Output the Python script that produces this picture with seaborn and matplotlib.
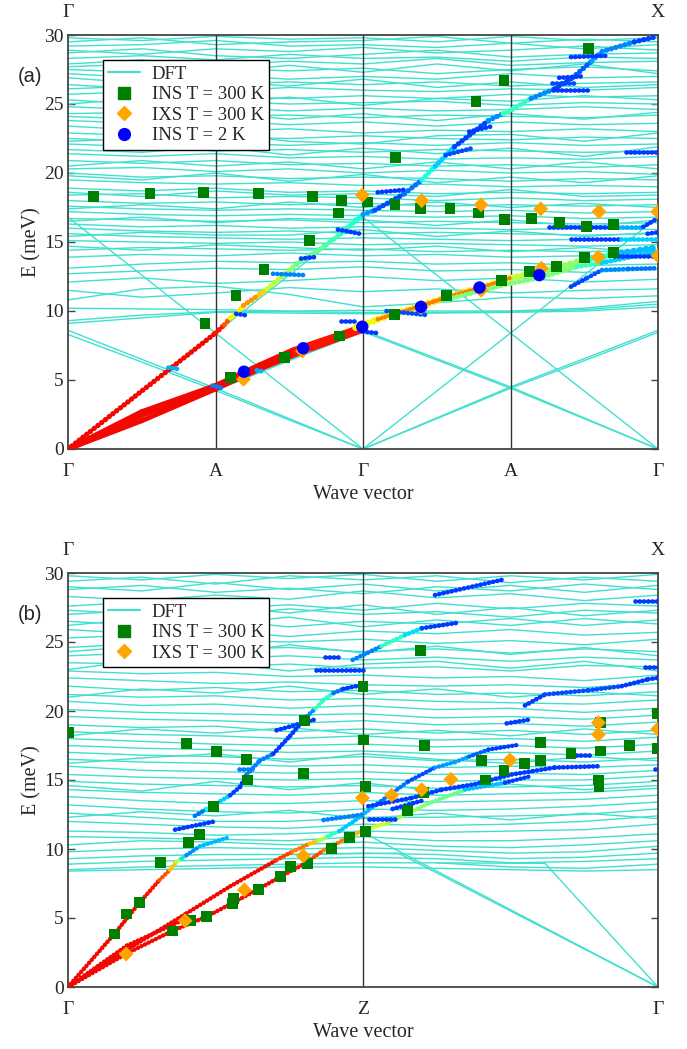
import matplotlib
matplotlib.use("Agg")
import matplotlib.pyplot as plt
from matplotlib.collections import LineCollection
from matplotlib.lines import Line2D
import numpy as np
import pandas as pd
import seaborn as sns


# --- Panel (a): path G-A-G-A-G, k = 0..4 ------------------------------------
A_KNODES = [0, 0.5, 1, 1.5, 2, 2.5, 3, 3.5, 4]
A_TICKS = ["Γ", "A", "Γ", "A", "Γ"]

# DFT bands (meV) at the nine k nodes above
A_BANDS = [
    # folded acoustic branches
    [0, 4.2, 8.4, 4.2, 0, 4.2, 8.4, 4.2, 0],
    [16.8, 12.6, 8.4, 12.6, 16.8, 12.6, 8.4, 12.6, 16.8],
    [0, 2.2, 4.4, 6.5, 8.6, 6.55, 4.5, 2.25, 0],
    [8.6, 6.5, 4.4, 2.2, 0, 2.25, 4.5, 6.55, 8.6],
    [0, 2.1, 4.25, 6.4, 8.5, 6.45, 4.4, 2.2, 0],
    [8.3, 6.3, 4.25, 2.1, 0, 2.2, 4.4, 6.4, 8.45],
    # low optical
    [10.2, 10.15, 10.1, 10.0, 10.05, 10.0, 10.0, 10.2, 10.7],
    [9.3, 9.7, 9.95, 9.95, 9.9, 9.9, 9.95, 10.1, 10.5],
    [9.1, 9.5, 9.9, 9.85, 9.8, 9.85, 9.9, 10.0, 10.3],
    [10.8, 11.6, 11.8, 11.2, 10.3, 10.6, 11.0, 10.9, 11.1],
    [11.5, 11.0, 11.3, 11.7, 11.4, 11.6, 11.3, 11.5, 11.6],
    [12.1, 12.4, 12.0, 12.2, 12.5, 12.2, 12.4, 12.1, 12.3],
    # dense optical manifold
    [29.8, 29.6, 29.9, 29.7, 29.8, 29.5, 29.9, 29.6, 29.8],
    [29.5, 29.8, 29.3, 29.5, 29.6, 29.9, 29.4, 29.7, 29.5],
    [29.2, 29.3, 29.6, 29.2, 29.3, 29.1, 29.4, 29.0, 29.3],
    [28.9, 28.6, 29.0, 28.8, 29.1, 28.7, 28.9, 29.2, 28.9],
    [28.7, 29.0, 28.5, 28.3, 28.6, 28.9, 28.4, 28.6, 28.7],
    [28.3, 28.5, 28.2, 28.6, 28.3, 28.4, 28.1, 28.4, 28.3],
    [27.9, 28.2, 27.8, 28.1, 27.9, 28.3, 27.8, 28.0, 28.1],
    [27.7, 27.9, 27.3, 27.8, 27.3, 27.9, 27.4, 27.9, 27.2],
    [27.5, 27.3, 27.6, 27.4, 27.6, 27.2, 27.5, 27.7, 27.4],
    [27.2, 26.9, 27.1, 26.8, 27.0, 26.8, 27.2, 26.9, 27.0],
    [26.9, 26.5, 26.4, 26.6, 26.4, 26.6, 26.3, 26.5, 26.6],
    [26.1, 26.3, 26.7, 26.3, 26.8, 26.2, 26.6, 26.2, 26.4],
    [26.4, 26.1, 25.9, 26.2, 26.0, 25.9, 26.1, 26.0, 26.2],
    [25.7, 25.9, 25.6, 25.4, 25.6, 25.4, 25.7, 25.5, 25.6],
    [25.0, 25.4, 25.0, 25.5, 24.9, 25.4, 25.2, 25.6, 25.3],
    [25.3, 25.0, 25.2, 25.0, 25.1, 25.2, 24.9, 25.1, 25.0],
    [24.8, 24.6, 24.8, 24.5, 24.7, 24.5, 24.6, 24.8, 24.6],
    [24.3, 24.4, 24.1, 24.2, 24.0, 24.2, 24.1, 24.0, 24.2],
    [24.1, 23.9, 24.4, 23.9, 24.3, 23.8, 24.3, 23.9, 24.4],
    [23.8, 23.6, 23.8, 23.5, 23.7, 23.4, 23.7, 23.5, 23.6],
    [23.4, 23.1, 23.0, 23.2, 22.9, 23.1, 23.0, 23.2, 23.0],
    [22.9, 22.7, 22.6, 22.5, 22.7, 22.5, 22.4, 22.6, 22.5],
    [22.3, 22.5, 22.9, 22.3, 22.1, 22.7, 22.8, 22.3, 22.9],
    [22.5, 22.3, 22.2, 22.0, 22.2, 22.0, 22.2, 22.0, 22.1],
    [22.1, 21.9, 21.6, 21.7, 21.5, 21.7, 21.6, 21.5, 21.6],
    [21.7, 21.5, 21.9, 21.3, 21.8, 21.4, 21.8, 21.2, 21.9],
    [21.4, 21.2, 21.4, 21.1, 21.2, 21.0, 21.1, 21.0, 21.2],
    [20.9, 20.7, 20.9, 20.6, 20.7, 20.5, 20.6, 20.4, 20.6],
    [20.5, 20.9, 20.5, 20.8, 20.3, 20.8, 20.3, 20.8, 20.3],
    [20.3, 20.4, 20.1, 20.3, 20.0, 20.2, 20.0, 20.1, 19.9],
    [20.0, 19.7, 19.8, 19.6, 19.7, 19.6, 19.4, 19.6, 19.5],
    [19.8, 19.5, 20.0, 19.4, 19.9, 19.3, 19.7, 19.3, 19.8],
    [19.5, 19.3, 19.2, 19.3, 19.1, 19.2, 19.0, 19.1, 19.0],
    [18.9, 18.7, 18.9, 18.6, 18.7, 18.5, 18.6, 18.5, 18.6],
    [18.6, 18.3, 18.7, 18.4, 18.5, 18.3, 18.8, 18.3, 18.4],
    [18.4, 18.5, 18.2, 18.3, 18.2, 18.0, 18.2, 18.0, 18.1],
    [18.0, 17.8, 17.9, 17.7, 17.8, 17.6, 17.7, 17.6, 17.7],
    [17.6, 17.4, 17.3, 17.4, 17.3, 17.2, 17.3, 17.1, 17.2],
    [17.4, 17.7, 17.4, 17.9, 17.5, 17.9, 17.5, 17.8, 17.5],
    [17.2, 17.0, 16.9, 17.0, 16.9, 16.8, 16.9, 16.7, 16.8],
    [16.7, 16.6, 16.5, 16.6, 16.4, 16.5, 16.4, 16.3, 16.4],
    [16.5, 16.8, 16.4, 16.7, 16.6, 16.2, 16.6, 16.1, 16.6],
    [16.3, 16.1, 16.2, 16.0, 16.1, 16.0, 15.9, 16.0, 15.9],
    [16.0, 15.8, 15.7, 15.8, 15.6, 15.7, 15.6, 15.5, 15.6],
    [15.6, 15.4, 15.3, 15.2, 15.3, 15.2, 15.1, 15.2, 15.2],
    [15.4, 15.7, 15.5, 15.5, 15.9, 15.4, 15.8, 15.4, 15.7],
    [15.1, 15.0, 14.9, 15.0, 14.8, 14.9, 14.8, 14.7, 14.8],
    [14.7, 14.4, 14.8, 14.6, 14.4, 14.7, 14.3, 14.6, 14.2],
    [14.4, 14.6, 14.5, 14.4, 14.5, 14.3, 14.4, 14.3, 14.4],
    [13.9, 14.1, 14.0, 14.2, 14.0, 14.1, 13.9, 14.0, 13.9],
    [13.1, 13.4, 13.6, 13.5, 13.6, 13.4, 13.5, 13.3, 13.4],
    [12.7, 12.9, 13.1, 13.0, 13.2, 12.9, 13.0, 12.8, 13.0],
]

# measured points, panel (a)
A_INS300_K = [0.17, 0.556, 0.917, 1.29, 1.66, 1.855, 2.03, 1.835, 1.636, 1.329,
              1.139, 0.929, 1.103, 1.467, 1.84, 3.53, 2.956, 2.766, 2.22, 2.217,
              2.393, 2.59, 2.78, 2.958, 3.14, 3.33, 3.517, 3.70, 3.70, 3.50,
              3.313, 3.13, 2.94, 2.567, 2.212]
A_INS300_E = [18.3, 18.5, 18.6, 18.5, 18.3, 18.0, 17.9, 17.1, 15.1, 13.0,
              11.1, 9.1, 5.17, 6.64, 8.19, 29.0, 26.7, 25.2, 21.1, 17.7,
              17.4, 17.4, 17.1, 16.6, 16.7, 16.4, 16.1, 16.3, 14.25, 13.9,
              13.2, 12.85, 12.2, 11.1, 9.76]
A_IXS300_K = [1.19, 1.59, 1.995, 2.398, 2.80, 3.205, 3.60, 3.998, 4.0, 3.595,
              3.21, 2.80, 2.393]
A_IXS300_E = [5.05, 7.1, 18.4, 18.0, 17.7, 17.4, 17.2, 17.2, 14.0, 13.9,
              13.1, 11.5, 10.25]
A_INS2_K = [1.193, 1.595, 1.995, 2.393, 2.79, 3.195]
A_INS2_E = [5.6, 7.3, 8.86, 10.3, 11.7, 12.6]

# intensity traces (k, E, relative intensity 0..1), panel (a)
A_TR_LA = [(0, 0, .9), (1.0, 8.4, .9), (1.06, 9.0, .88), (1.1, 9.5, .75),
           (1.15, 9.9, .55), (1.19, 10.4, .75), (1.3, 11.2, .75), (1.35, 11.6, .62),
           (1.45, 12.5, .55), (1.55, 13.4, .5), (1.65, 14.1, .45), (1.75, 14.8, .5),
           (1.85, 15.6, .36), (1.95, 16.6, .45), (2.0, 17.0, .33), (2.08, 17.3, .22),
           (2.28, 18.5, .18), (2.4, 19.5, .3), (2.49, 20.5, .45), (2.62, 21.9, .2),
           (2.85, 23.8, .18), (2.95, 24.3, .35), (3.01, 24.6, .5), (3.14, 25.4, .32),
           (3.3, 26.1, .2), (3.42, 26.9, .18), (3.55, 28.1, .25), (3.62, 28.8, .32),
           (3.84, 29.5, .2), (3.98, 29.85, .18)]
A_TR_TA1 = [(0, 0, .9), (0.5, 2.05, .9), (1.0, 4.35, .9), (1.3, 5.8, .9),
            (1.53, 6.8, .9), (2.0, 8.6, .88)]
A_TR_TA2 = [(0, 0, .9), (0.5, 2.45, .9), (1.0, 4.5, .9), (1.3, 5.95, .9),
            (1.53, 7.0, .9), (2.0, 8.75, .88)]
A_TR_TA3 = [(0, 0, .9), (0.5, 2.7, .9), (1.0, 4.6, .9), (1.3, 6.1, .9),
            (1.53, 7.2, .9), (2.0, 8.9, .88)]
A_TR_UP = [(1.95, 8.8, .62), (2.1, 9.4, .65), (2.4, 10.4, .65), (2.6, 11.1, .7),
           (2.8, 11.7, .65), (3.0, 12.4, .62), (3.2, 12.8, .55), (3.5, 13.7, .5),
           (3.75, 14.2, .32), (4.0, 14.6, .3)]
A_TR_LOW = [(2.55, 10.8, .5), (3.0, 12.0, .5), (3.2, 12.4, .5), (3.45, 13.2, .5),
            (3.62, 13.5, .35), (4.0, 14.3, .3)]
A_TR_BLUE = [(3.41, 11.76, .18), (3.52, 12.4, .2), (3.62, 12.97, .22),
             (3.8, 13.05, .3), (3.98, 13.1, .18)]
# short streaks (k0, E0, k1, E1, intensity)
A_STREAKS = [(3.41, 28.4, 3.66, 28.5, .18), (3.33, 26.9, 3.48, 27.0, .18),
             (3.29, 26.0, 3.53, 26.0, .18), (3.28, 26.5, 3.45, 26.5, .2),
             (2.72, 23.0, 2.88, 23.4, .18), (2.56, 21.3, 2.74, 21.8, .2),
             (2.1, 18.6, 2.3, 18.8, .18), (3.78, 21.5, 4.0, 21.5, .18),
             (3.26, 16.1, 3.7, 16.1, .18), (3.7, 16.1, 3.9, 16.1, .3),
             (3.9, 16.1, 3.98, 16.6, .18), (3.41, 15.2, 3.75, 15.2, .18),
             (3.75, 15.2, 4.0, 15.2, .33), (3.93, 15.6, 4.0, 15.7, .18),
             (3.7, 14.0, 4.0, 14.0, .18), (1.39, 12.7, 1.6, 12.6, .25),
             (1.58, 13.8, 1.67, 13.9, .18), (1.83, 15.9, 1.98, 15.6, .18),
             (1.14, 9.8, 1.2, 9.7, .18), (1.85, 9.3, 1.95, 9.3, .18),
             (2.0, 8.5, 2.1, 8.4, .18), (2.16, 10.0, 2.44, 9.7, .2),
             (0.68, 5.9, 0.74, 5.8, .3), (0.98, 4.6, 1.05, 4.4, .25),
             (1.28, 5.7, 1.33, 5.6, .3)]


# --- Panel (b): path G-Z-G, k = 0..2 ----------------------------------------
B_KNODES = [0, 0.25, 0.5, 0.75, 1, 1.25, 1.5, 1.75, 2]
B_TICKS = ["Γ", "Z", "Γ"]

B_BANDS = [
    [29.8, 29.5, 29.9, 29.6, 29.9, 29.4, 29.8, 29.5, 29.9],
    [29.4, 29.7, 29.2, 29.8, 29.5, 29.8, 29.3, 29.7, 29.4],
    [29.0, 28.7, 29.3, 28.8, 29.2, 28.7, 29.1, 28.6, 29.1],
    [28.8, 29.1, 28.6, 28.9, 28.5, 29.0, 28.7, 29.2, 28.8],
    [28.3, 28.0, 28.4, 28.1, 28.7, 28.2, 28.5, 28.0, 28.4],
    [27.6, 27.9, 27.4, 27.7, 27.3, 27.8, 27.4, 27.8, 27.6],
    [27.3, 27.0, 27.6, 27.1, 27.7, 27.0, 27.5, 26.9, 27.3],
    [27.0, 27.3, 26.9, 27.4, 27.0, 27.2, 26.8, 27.3, 27.1],
    [26.5, 26.2, 26.6, 26.1, 26.5, 26.3, 26.7, 26.2, 26.6],
    [26.2, 26.7, 26.3, 26.8, 26.1, 26.6, 26.2, 26.7, 26.3],
    [25.9, 25.6, 25.8, 25.4, 25.8, 25.6, 25.9, 25.5, 25.7],
    [25.3, 25.5, 25.1, 25.0, 25.2, 24.9, 25.1, 24.8, 25.2],
    [24.6, 24.9, 24.5, 24.6, 24.3, 24.5, 24.2, 24.5, 24.3],
    [24.3, 24.7, 24.1, 24.8, 24.2, 24.7, 24.1, 24.6, 24.0],
    [24.0, 24.2, 23.8, 24.0, 23.7, 23.9, 23.6, 23.9, 23.7],
    [23.5, 23.4, 23.2, 23.4, 23.1, 23.2, 22.9, 23.3, 23.2],
    [23.0, 23.7, 23.5, 22.9, 23.4, 23.6, 23.1, 23.6, 22.9],
    [22.9, 22.7, 22.8, 22.5, 22.6, 22.4, 22.5, 22.2, 22.6],
    [22.4, 22.2, 22.0, 22.1, 21.9, 21.8, 21.9, 21.7, 22.0],
    [21.8, 21.5, 21.7, 21.4, 21.5, 21.2, 21.3, 21.1, 21.4],
    [21.0, 21.6, 21.3, 21.8, 21.2, 21.6, 21.0, 21.4, 21.1],
    [21.2, 21.0, 21.1, 20.8, 20.9, 20.7, 20.6, 20.5, 20.8],
    [20.7, 20.4, 20.5, 20.2, 20.4, 20.1, 20.2, 19.9, 20.2],
    [20.1, 19.9, 19.8, 19.7, 19.8, 19.5, 19.6, 19.4, 19.7],
    [19.6, 19.4, 19.3, 19.1, 19.3, 19.0, 19.1, 18.9, 19.2],
    [19.0, 18.8, 18.9, 18.5, 18.7, 18.4, 18.6, 18.3, 18.6],
    [18.5, 18.3, 18.2, 18.0, 18.2, 17.9, 18.0, 17.8, 18.1],
    [18.2, 18.7, 18.4, 18.8, 18.3, 18.6, 18.2, 18.7, 18.3],
    [18.0, 17.8, 17.6, 17.5, 17.6, 17.4, 17.5, 17.3, 17.6],
    [17.5, 17.3, 17.2, 17.0, 17.1, 16.9, 17.0, 16.8, 17.1],
    [17.0, 16.8, 16.7, 16.5, 16.7, 16.4, 16.5, 16.3, 16.6],
    [16.2, 16.6, 16.9, 16.3, 16.9, 16.5, 16.2, 16.7, 16.4],
    [16.5, 16.3, 16.2, 16.0, 16.1, 15.9, 16.0, 15.9, 16.1],
    [16.0, 15.7, 15.6, 15.5, 15.6, 15.4, 15.5, 15.4, 15.7],
    [15.4, 15.2, 15.1, 15.0, 15.1, 14.9, 15.0, 15.0, 15.3],
    [14.9, 14.7, 14.6, 14.5, 14.6, 14.4, 14.5, 14.6, 14.9],
    [14.6, 14.2, 14.9, 14.3, 14.8, 14.2, 14.7, 14.3, 14.6],
    [14.3, 14.1, 14.0, 13.9, 14.1, 13.9, 14.0, 14.1, 14.4],
    [13.8, 13.5, 13.3, 13.3, 13.5, 13.4, 13.5, 13.6, 13.9],
    [13.2, 12.9, 12.7, 12.6, 12.9, 12.8, 12.9, 13.1, 13.4],
    [12.6, 12.3, 12.0, 12.0, 12.3, 12.3, 12.4, 12.5, 12.9],
    [12.3, 12.7, 12.4, 12.8, 12.2, 12.6, 12.1, 12.6, 12.2],
    [12.0, 11.8, 11.6, 11.5, 11.8, 11.7, 11.8, 12.0, 12.4],
    [11.3, 11.2, 11.0, 11.1, 11.3, 11.2, 11.3, 11.4, 11.8],
    [10.9, 10.8, 10.7, 10.6, 10.9, 10.6, 10.6, 10.8, 11.1],
    [10.3, 10.6, 10.5, 10.3, 10.5, 10.2, 10.1, 10.3, 10.6],
    [9.8, 10.0, 10.1, 10.0, 10.1, 9.9, 9.7, 9.8, 10.2],
    [9.3, 9.5, 9.6, 9.6, 9.7, 9.6, 9.3, 9.4, 9.7],
    [8.9, 9.1, 9.2, 9.3, 9.4, 9.3, 9.0, 9.1, 9.3],
    [8.5, 8.7, 8.8, 8.9, 9.0, 9.0, 8.7, 8.6, 8.9],
    [8.4, 8.5, 8.6, 8.7, 8.7, 8.6, 8.5, 8.4, 8.5],
]
# acoustic-like DFT branches reaching zero at the right Gamma point
B_ACOUSTIC_K = [[1.0, 2.0], [0.75, 1.12, 2.0], [1.25, 1.617, 2.0]]
B_ACOUSTIC_E = [[11.2, 0.0], [9.6, 9.7, 0.0], [9.0, 8.96, 0.0]]

B_INS300_K = [0.001, 0.402, 0.504, 0.606, 0.608, 0.798, 0.803, 1.0, 1.003, 1.007,
              1.007, 0.493, 0.447, 0.408, 0.312, 0.242, 0.199, 0.157, 0.353, 0.417,
              0.468, 0.557, 0.56, 0.645, 0.719, 0.753, 0.812, 0.894, 0.954, 1.196,
              1.207, 1.204, 1.15, 1.402, 1.414, 1.478, 1.546, 1.603, 1.603, 1.705,
              1.806, 1.806, 1.798, 1.80, 1.903, 1.997, 1.997]
B_INS300_E = [18.45, 17.65, 17.05, 16.5, 15.0, 15.5, 19.3, 21.8, 17.9, 14.5,
              11.3, 13.07, 11.07, 10.46, 9.03, 6.14, 5.29, 3.84, 4.06, 4.8,
              5.1, 6.06, 6.4, 7.08, 8.04, 8.72, 8.96, 10.05, 10.8, 24.4,
              17.5, 14.1, 12.8, 16.4, 15.0, 15.7, 16.2, 17.7, 16.4, 16.9,
              17.1, 19.15, 15.0, 14.5, 17.5, 19.8, 17.3]
B_IXS300_K = [0.197, 0.397, 0.598, 0.798, 0.998, 1.097, 1.199, 1.298, 1.498,
              1.798, 1.798, 1.999]
B_IXS300_E = [2.39, 4.8, 7.03, 9.5, 13.7, 13.9, 14.3, 15.05, 16.45,
              19.15, 18.3, 18.7]

B_TR_STEEP = [(0, 0, .9), (0.157, 3.84, .9), (0.242, 6.1, .9), (0.31, 7.75, .88),
              (0.346, 8.5, .76), (0.368, 9.08, .64), (0.385, 9.3, .5),
              (0.402, 9.56, .2), (0.447, 10.2, .33), (0.538, 10.8, .28)]
B_TR_OPT = [(0.43, 12.4, .18), (0.47, 12.9, .3), (0.504, 13.3, .45), (0.55, 13.9, .2),
            (0.583, 14.5, .18), (0.606, 15.4, .18), (0.65, 16.4, .32),
            (0.696, 16.9, .18), (0.753, 18.2, .18), (0.809, 19.6, .18),
            (0.84, 20.2, .35), (0.866, 20.8, .5), (0.9, 21.3, .3), (0.933, 21.6, .18),
            (0.978, 21.8, .18)]
B_TR_OPT2 = [(0.965, 23.7, .18), (1.063, 24.7, .32), (1.142, 25.5, .5),
             (1.2, 26.0, .18), (1.323, 26.4, .18)]
B_TR_A = [(0, 0, .9), (0.2, 2.7, .9), (0.402, 5.34, .9), (0.55, 7.3, .9),
          (0.707, 9.2, .9), (0.76, 9.8, .78), (0.82, 10.4, .78), (0.85, 10.6, .63),
          (0.88, 10.9, .5), (0.92, 11.3, .32), (0.975, 12.1, .32), (1.05, 13.3, .3),
          (1.154, 14.9, .18), (1.244, 15.9, .22), (1.312, 16.3, .32), (1.36, 16.7, .25),
          (1.425, 17.2, .18), (1.527, 17.55, .18)]
B_TR_B = [(0, 0, .9), (0.2, 2.44, .9), (0.353, 4.06, .9), (0.47, 5.1, .9),
          (0.645, 7.08, .9), (0.72, 8.0, .9), (0.8, 8.9, .88), (0.866, 9.9, .78),
          (0.956, 10.9, .78), (1.007, 11.4, .65), (1.086, 11.9, .55), (1.221, 13.3, .5),
          (1.346, 14.3, .45), (1.481, 14.8, .18), (1.572, 15.3, .18)]
B_TR_C = [(0, 0, .9), (0.2, 3.0, .9), (0.4, 4.95, .9)]
B_TR_Z = [(1.018, 13.1, .18), (1.165, 13.7, .18), (1.267, 14.3, .18),
          (1.38, 14.7, .18), (1.504, 15.4, .18), (1.65, 15.9, .18), (1.803, 16.0, .18)]
B_TR_HIGH = [(1.549, 20.4, .18), (1.617, 21.2, .18), (1.764, 21.5, .22),
             (1.877, 21.8, .18), (1.967, 22.3, .18), (2.0, 22.4, .18)]
B_STREAKS = [(0.363, 11.4, 0.498, 12.0, .18), (0.707, 18.6, 0.84, 19.4, .18),
             (0.84, 23.0, 1.0, 23.0, .18), (0.87, 23.9, 0.92, 23.9, .18),
             (0.866, 12.1, 1.0, 12.5, .25), (0.58, 15.8, 0.63, 15.8, .25),
             (1.02, 12.2, 1.11, 12.2, .18), (1.1, 12.9, 1.2, 13.5, .18),
             (1.244, 28.4, 1.47, 29.5, .18), (1.487, 19.1, 1.572, 19.4, .18),
             (1.956, 23.2, 2.0, 23.2, .18), (1.922, 28.0, 2.0, 28.0, .18),
             (1.99, 15.8, 2.0, 15.8, .18), (1.707, 16.8, 1.78, 16.8, .18)]


# --- Style -------------------------------------------------------------------
sns.set_style("white")
plt.rcParams["font.family"] = ["Liberation Serif", "DejaVu Serif"]

DFT_COLOR = "#40e0d0"
FRAME = "#444444"


def bands_frame(knodes, bands):
    rows = []
    for i, band in enumerate(bands):
        for k, e in zip(knodes, band):
            rows.append({"band": i, "k": k, "E": e})
    return pd.DataFrame(rows)


def draw_trace(ax, pts, lw=3.4, dotted=True):
    segs = [[(pts[i][0], pts[i][1]), (pts[i + 1][0], pts[i + 1][1])]
            for i in range(len(pts) - 1)]
    vals = np.array([0.5 * (pts[i][2] + pts[i + 1][2]) for i in range(len(pts) - 1)])
    # round-capped near-zero dashes give the beaded look of the intensity dots
    style = (0, (0.05, 0.85)) if dotted else "solid"
    lc = LineCollection(segs, cmap="jet", norm=plt.Normalize(0, 1),
                        linewidths=lw, capstyle="round", linestyles=style, zorder=3)
    lc.set_array(vals)
    ax.add_collection(lc)


def draw_streaks(ax, streaks, lw=3.4):
    for k0, e0, k1, e1, c in streaks:
        draw_trace(ax, [(k0, e0, c), (k1, e1, c)], lw=lw)


def style_axes(ax, kmax, ticks, label, top_right):
    ax.set_xlim(0, kmax)
    ax.set_ylim(0, 30)
    ax.set_xticks(np.linspace(0, kmax, len(ticks)))
    ax.set_xticklabels(ticks)
    ax.set_yticks([0, 5, 10, 15, 20, 25, 30])
    ax.tick_params(axis="x", length=0, pad=10, labelsize=14)
    ax.tick_params(axis="y", direction="in", left=True, right=True, length=5,
                   width=1, color=FRAME, labelsize=14, pad=3)
    for s in ax.spines.values():
        s.set_color(FRAME)
        s.set_linewidth(1.3)
    for xv in range(1, len(ticks) - 1):
        ax.axvline(xv * kmax / (len(ticks) - 1), color="#333333", lw=1.0, zorder=1.5)
    ax.set_xlabel("Wave vector", fontsize=14.5, labelpad=4)
    ax.set_ylabel("E (meV)", fontsize=14.5, labelpad=2)
    ax.text(0, 1.035, "Γ", transform=ax.transAxes, ha="center", va="bottom", fontsize=14)
    ax.text(1, 1.035, top_right, transform=ax.transAxes, ha="center", va="bottom", fontsize=14)
    ax.text(-0.064, 0.9, label, transform=ax.transAxes, ha="center", va="center",
            fontsize=14.5, family=["Liberation Sans", "DejaVu Sans"])


def add_markers(ax, ins_k, ins_e, ixs_k, ixs_e, cold_k=None, cold_e=None):
    sns.scatterplot(x=ins_k, y=ins_e, marker="s", s=62, color="green",
                    edgecolor="none", ax=ax, zorder=4)
    sns.scatterplot(x=ixs_k, y=ixs_e, marker="D", s=58, color="orange",
                    edgecolor="none", ax=ax, zorder=5)
    if cold_k is not None:
        sns.scatterplot(x=cold_k, y=cold_e, marker="o", s=80, color="blue",
                        edgecolor="none", ax=ax, zorder=6)


def add_legend(ax, with_cold):
    handles = [
        Line2D([0], [0], color=DFT_COLOR, lw=1.5),
        Line2D([0], [0], marker="s", ls="none", color="green", ms=8),
        Line2D([0], [0], marker="D", ls="none", color="orange", ms=7.5),
    ]
    labels = ["DFT", "INS T = 300 K", "IXS T = 300 K"]
    if with_cold:
        handles.append(Line2D([0], [0], marker="o", ls="none", color="blue", ms=8.5))
        labels.append("INS T = 2 K")
    leg = ax.legend(handles, labels, loc="upper left", bbox_to_anchor=(0.059, 0.94),
                    borderaxespad=0, fontsize=13.5, frameon=True, fancybox=False,
                    edgecolor="black", framealpha=1, labelspacing=0.18,
                    handlelength=1.7, handletextpad=0.6, borderpad=0.3)
    leg.get_frame().set_linewidth(1.0)
    leg.set_zorder(10)


# --- Figure ------------------------------------------------------------------
fig = plt.figure(figsize=(6.87, 10.49), dpi=100)
ax_a = fig.add_axes([68 / 687, 1 - 449 / 1049, 590 / 687, 414 / 1049])
ax_b = fig.add_axes([68 / 687, 1 - 987 / 1049, 590 / 687, 414 / 1049])

# panel (a)
sns.lineplot(data=bands_frame(A_KNODES, A_BANDS), x="k", y="E", units="band",
             estimator=None, sort=False, color=DFT_COLOR, lw=1.0, ax=ax_a, zorder=1)
for tr in (A_TR_TA1, A_TR_TA2, A_TR_TA3):
    draw_trace(ax_a, tr, lw=3.6, dotted=False)
draw_trace(ax_a, A_TR_LA, lw=3.8)
draw_trace(ax_a, A_TR_UP, lw=5.0)
draw_trace(ax_a, [(p[0], p[1], .78) for p in A_TR_UP[1:6]], lw=3.0)
draw_trace(ax_a, A_TR_LOW, lw=3.6)
draw_trace(ax_a, A_TR_BLUE, lw=3.4)
draw_streaks(ax_a, A_STREAKS)
add_markers(ax_a, A_INS300_K, A_INS300_E, A_IXS300_K, A_IXS300_E, A_INS2_K, A_INS2_E)
style_axes(ax_a, 4, A_TICKS, "(a)", "X")
add_legend(ax_a, True)

# panel (b)
sns.lineplot(data=bands_frame(B_KNODES, B_BANDS), x="k", y="E", units="band",
             estimator=None, sort=False, color=DFT_COLOR, lw=1.0, ax=ax_b, zorder=1)
for ks, es in zip(B_ACOUSTIC_K, B_ACOUSTIC_E):
    ax_b.plot(ks, es, color=DFT_COLOR, lw=1.0, zorder=1)
for tr in (B_TR_A, B_TR_B, B_TR_C):
    draw_trace(ax_b, tr, lw=3.2)
draw_trace(ax_b, B_TR_STEEP, lw=3.2)
draw_trace(ax_b, B_TR_OPT, lw=3.4)
draw_trace(ax_b, B_TR_OPT2, lw=3.4)
draw_trace(ax_b, B_TR_Z, lw=3.4)
draw_trace(ax_b, B_TR_HIGH, lw=3.4)
draw_streaks(ax_b, B_STREAKS)
add_markers(ax_b, B_INS300_K, B_INS300_E, B_IXS300_K, B_IXS300_E)
style_axes(ax_b, 2, B_TICKS, "(b)", "X")
add_legend(ax_b, False)

fig.savefig("out.png", dpi=100)
plt.close(fig)
